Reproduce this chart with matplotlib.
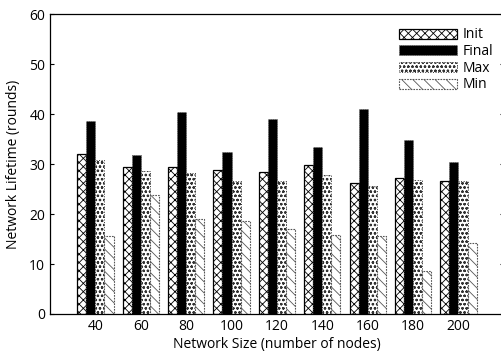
import matplotlib
matplotlib.use("Agg")
import matplotlib.pyplot as plt
import numpy as np

plt.rcParams['font.family'] = ['Open Sans', 'DejaVu Sans']
plt.rcParams['hatch.linewidth'] = 0.6

sizes = [40, 60, 80, 100, 120, 140, 160, 180, 200]
init = [32.1, 29.5, 29.4, 28.9, 28.4, 29.9, 26.2, 27.2, 26.6]
final = [38.7, 31.9, 40.5, 32.5, 39.0, 33.5, 41.0, 34.8, 30.4]
maxv = [30.8, 28.6, 28.2, 26.6, 26.6, 27.8, 25.6, 26.8, 26.6]
minv = [15.6, 23.8, 19.0, 18.6, 17.0, 15.8, 15.6, 8.5, 14.2]

fig = plt.figure(figsize=(5.02, 3.52), dpi=100)
ax = fig.add_axes([0.0996, 0.108, 0.904, 0.852])

x = np.arange(len(sizes))
w = 0.2

ax.bar(x - 1.5*w, init, w, color='white', edgecolor='black', hatch='xxxx', linewidth=0.9, label='Init')
ax.bar(x - 0.5*w, final, w, color='black', edgecolor='#555555', linewidth=0.6, linestyle=':', label='Final')
ax.bar(x + 0.5*w, maxv, w, color='white', edgecolor='#333333', hatch='oooo', linewidth=0.7, linestyle=':', label='Max')
ax.bar(x + 1.5*w, minv, w, color='white', edgecolor='#555555', hatch='\\\\\\', linewidth=0.8,
       linestyle=(0, (1.5, 1)), label='Min')

ax.set_xlim(-1, 9)
ax.set_ylim(0, 60)
ax.set_xticks(x)
ax.set_xticklabels([str(s) for s in sizes])
ax.set_yticks(range(0, 61, 10))
ax.tick_params(direction='in', length=3, width=0.8, labelsize=10, right=True, top=False)
ax.tick_params(axis='x', length=0)
for s in ax.spines.values():
    s.set_linewidth(0.9)

ax.set_xlabel('Network Size (number of nodes)', fontsize=10, labelpad=2)
ax.set_ylabel('Network Lifetime (rounds)', fontsize=10, labelpad=6)

leg = ax.legend(loc='upper right', bbox_to_anchor=(1.005, 0.997), frameon=False, fontsize=10,
                handlelength=4.2, handleheight=0.75, labelspacing=0.12, handletextpad=0.4)

fig.savefig('out.png', dpi=100)
